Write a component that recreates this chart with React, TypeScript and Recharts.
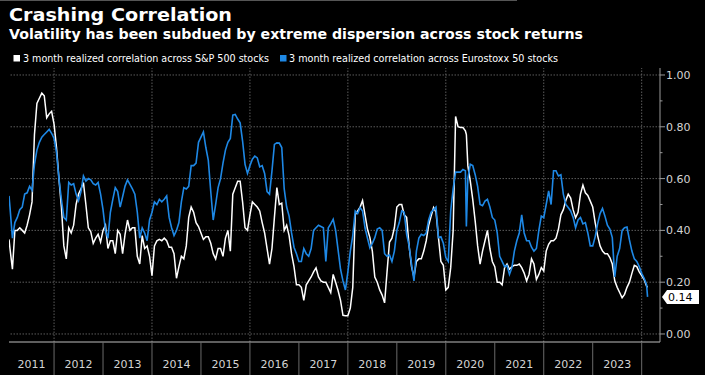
import React from 'react';
import { LineChart, Line, XAxis, YAxis, ReferenceLine } from 'recharts';

// ---- data (decimal year) ----
const dates = [
  2011.08, 2011.10, 2011.15, 2011.20, 2011.25, 2011.30, 2011.35, 2011.40, 2011.45, 2011.50, 2011.55, 2011.60, 2011.65, 2011.70, 2011.75, 2011.80, 2011.85, 2011.90, 2011.95,
  2012.00, 2012.05, 2012.10, 2012.15, 2012.20, 2012.25, 2012.30, 2012.35, 2012.40, 2012.45, 2012.50, 2012.55, 2012.60, 2012.65, 2012.70, 2012.75, 2012.80, 2012.85, 2012.90, 2012.95,
  2013.00, 2013.05, 2013.10, 2013.15, 2013.20, 2013.25, 2013.30, 2013.35, 2013.40, 2013.45, 2013.50, 2013.55, 2013.60, 2013.65, 2013.70, 2013.75, 2013.80, 2013.85, 2013.90, 2013.95,
  2014.00, 2014.05, 2014.10, 2014.15, 2014.20, 2014.25, 2014.30, 2014.35, 2014.40, 2014.45, 2014.50, 2014.55, 2014.60, 2014.65, 2014.70, 2014.75, 2014.80, 2014.85, 2014.90, 2014.95,
  2015.00, 2015.05, 2015.10, 2015.15, 2015.20, 2015.25, 2015.30, 2015.35, 2015.40, 2015.45, 2015.50, 2015.55, 2015.60, 2015.65, 2015.70, 2015.75, 2015.80, 2015.85, 2015.90, 2015.95,
  2016.00, 2016.05, 2016.10, 2016.15, 2016.20, 2016.25, 2016.30, 2016.35, 2016.40, 2016.45, 2016.50, 2016.55, 2016.60, 2016.65, 2016.70, 2016.75, 2016.80, 2016.85, 2016.90, 2016.95,
  2017.00, 2017.05, 2017.10, 2017.15, 2017.20, 2017.25, 2017.30, 2017.35, 2017.40, 2017.45, 2017.50, 2017.55, 2017.60, 2017.65, 2017.70, 2017.75, 2017.80, 2017.85, 2017.90, 2017.95,
  2018.00, 2018.05, 2018.10, 2018.15, 2018.20, 2018.25, 2018.30, 2018.35, 2018.40, 2018.45, 2018.50, 2018.55, 2018.60, 2018.65, 2018.70, 2018.75, 2018.80, 2018.85, 2018.90, 2018.95,
  2019.00, 2019.05, 2019.10, 2019.15, 2019.20, 2019.25, 2019.30, 2019.35, 2019.40, 2019.45, 2019.50, 2019.55, 2019.60, 2019.65, 2019.70, 2019.75, 2019.80, 2019.85, 2019.90, 2019.95,
  2020.00, 2020.05, 2020.10, 2020.15, 2020.20, 2020.25, 2020.30, 2020.35, 2020.40, 2020.42, 2020.45, 2020.50, 2020.55, 2020.60, 2020.65, 2020.70, 2020.75, 2020.80, 2020.85, 2020.90, 2020.95,
  2021.00, 2021.05, 2021.10, 2021.15, 2021.20, 2021.25, 2021.30, 2021.35, 2021.40, 2021.45, 2021.50, 2021.55, 2021.60, 2021.65, 2021.70, 2021.75, 2021.80, 2021.85, 2021.90, 2021.95,
  2022.00, 2022.05, 2022.10, 2022.15, 2022.20, 2022.25, 2022.30, 2022.35, 2022.40, 2022.45, 2022.50, 2022.55, 2022.60, 2022.65, 2022.70, 2022.75, 2022.80, 2022.85, 2022.90, 2022.95,
  2023.00, 2023.05, 2023.10, 2023.15, 2023.20, 2023.25, 2023.30, 2023.35, 2023.40, 2023.45, 2023.50, 2023.55, 2023.60, 2023.65, 2023.70, 2023.75, 2023.80, 2023.85, 2023.90, 2023.95,
  2024.00, 2024.05, 2024.10, 2024.12,
];

const sp500 = [
  0.365, 0.33, 0.25, 0.40, 0.40, 0.41, 0.40, 0.39, 0.42, 0.46, 0.51, 0.77, 0.89, 0.91, 0.93, 0.92, 0.835, 0.85, 0.86,
  0.81, 0.72, 0.60, 0.49, 0.34, 0.29, 0.41, 0.39, 0.42, 0.50, 0.54, 0.56, 0.585, 0.50, 0.41, 0.395, 0.35, 0.37, 0.385, 0.355,
  0.40, 0.42, 0.33, 0.36, 0.36, 0.31, 0.40, 0.385, 0.31, 0.385, 0.44, 0.40, 0.41, 0.41, 0.30, 0.27, 0.38, 0.33, 0.34, 0.30,
  0.225, 0.34, 0.36, 0.365, 0.36, 0.37, 0.36, 0.335, 0.335, 0.31, 0.215, 0.26, 0.30, 0.29, 0.34, 0.45, 0.49, 0.47, 0.43, 0.415,
  0.39, 0.365, 0.375, 0.375, 0.35, 0.31, 0.29, 0.33, 0.33, 0.30, 0.37, 0.40, 0.32, 0.54, 0.565, 0.59, 0.59, 0.51, 0.41, 0.40,
  0.46, 0.51, 0.50, 0.49, 0.475, 0.43, 0.39, 0.33, 0.27, 0.33, 0.45, 0.565, 0.50, 0.505, 0.40, 0.42, 0.38, 0.31, 0.26, 0.19,
  0.19, 0.18, 0.13, 0.19, 0.205, 0.22, 0.24, 0.255, 0.22, 0.205, 0.20, 0.20, 0.18, 0.16, 0.23, 0.20, 0.168, 0.13, 0.072, 0.07,
  0.07, 0.10, 0.18, 0.46, 0.475, 0.49, 0.515, 0.46, 0.405, 0.372, 0.32, 0.22, 0.20, 0.17, 0.15, 0.12, 0.24, 0.355, 0.37, 0.41,
  0.49, 0.50, 0.50, 0.46, 0.45, 0.34, 0.26, 0.22, 0.28, 0.29, 0.29, 0.32, 0.36, 0.42, 0.455, 0.488, 0.47, 0.372, 0.28, 0.265,
  0.17, 0.18, 0.256, 0.40, 0.84, 0.80, 0.797, 0.797, 0.784, 0.77, 0.65, 0.59, 0.52, 0.436, 0.34, 0.27, 0.32, 0.36, 0.40, 0.33, 0.28,
  0.26, 0.20, 0.20, 0.19, 0.256, 0.27, 0.25, 0.26, 0.265, 0.265, 0.27, 0.256, 0.235, 0.205, 0.23, 0.29, 0.27, 0.21, 0.23, 0.256,
  0.243, 0.32, 0.346, 0.36, 0.36, 0.37, 0.405, 0.46, 0.48, 0.515, 0.54, 0.525, 0.48, 0.449, 0.47, 0.54, 0.575, 0.545, 0.535, 0.513,
  0.49, 0.43, 0.38, 0.34, 0.32, 0.31, 0.31, 0.295, 0.27, 0.205, 0.18, 0.16, 0.14, 0.153, 0.18, 0.20, 0.234, 0.265, 0.26, 0.24,
  0.225, 0.21, 0.185, 0.18,
];

const eurostoxx = [
  0.533, 0.49, 0.37, 0.43, 0.45, 0.48, 0.49, 0.54, 0.545, 0.57, 0.555, 0.655, 0.71, 0.74, 0.76, 0.77, 0.78, 0.79, 0.775,
  0.755, 0.70, 0.60, 0.52, 0.45, 0.44, 0.585, 0.575, 0.58, 0.54, 0.515, 0.55, 0.61, 0.59, 0.60, 0.595, 0.58, 0.575, 0.585, 0.54,
  0.48, 0.40, 0.37, 0.47, 0.52, 0.565, 0.55, 0.49, 0.53, 0.571, 0.595, 0.578, 0.56, 0.54, 0.47, 0.37, 0.41, 0.39, 0.36, 0.44,
  0.47, 0.51, 0.50, 0.52, 0.51, 0.52, 0.533, 0.45, 0.41, 0.38, 0.40, 0.43, 0.51, 0.565, 0.56, 0.57, 0.65, 0.65, 0.66, 0.74,
  0.76, 0.78, 0.72, 0.67, 0.55, 0.44, 0.50, 0.565, 0.60, 0.66, 0.71, 0.74, 0.755, 0.845, 0.848, 0.83, 0.815, 0.745, 0.655, 0.62,
  0.65, 0.675, 0.687, 0.68, 0.645, 0.65, 0.62, 0.55, 0.54, 0.63, 0.732, 0.738, 0.737, 0.72, 0.56, 0.49, 0.455, 0.39, 0.335, 0.31,
  0.28, 0.28, 0.33, 0.31, 0.30, 0.33, 0.40, 0.41, 0.42, 0.415, 0.41, 0.28, 0.41, 0.425, 0.443, 0.40, 0.325, 0.25, 0.205, 0.17,
  0.24, 0.32, 0.38, 0.475, 0.465, 0.488, 0.475, 0.41, 0.37, 0.333, 0.35, 0.372, 0.405, 0.41, 0.40, 0.31, 0.30, 0.305, 0.28, 0.32,
  0.40, 0.43, 0.475, 0.47, 0.385, 0.34, 0.27, 0.205, 0.32, 0.37, 0.385, 0.38, 0.39, 0.44, 0.47, 0.48, 0.49, 0.372, 0.375, 0.35,
  0.295, 0.28, 0.475, 0.56, 0.625, 0.625, 0.625, 0.635, 0.63, 0.415, 0.60, 0.655, 0.65, 0.615, 0.57, 0.50, 0.495, 0.513, 0.52, 0.49, 0.45,
  0.44, 0.39, 0.30, 0.28, 0.26, 0.265, 0.23, 0.256, 0.32, 0.36, 0.39, 0.46, 0.39, 0.36, 0.36, 0.335, 0.32, 0.33, 0.40, 0.455,
  0.449, 0.50, 0.552, 0.50, 0.63, 0.63, 0.61, 0.615, 0.54, 0.50, 0.488, 0.475, 0.45, 0.41, 0.44, 0.45, 0.425, 0.43, 0.39, 0.34,
  0.34, 0.375, 0.425, 0.465, 0.485, 0.455, 0.42, 0.405, 0.372, 0.22, 0.30, 0.33, 0.40, 0.41, 0.413, 0.363, 0.32, 0.29, 0.28, 0.26,
  0.234, 0.215, 0.19, 0.143,
];

const seriesNames = [
  '3 month realized correlation across S&P 500 stocks',
  '3 month realized correlation across Eurostoxx 50 stocks',
];
const yTicks = [0, 0.1, 0.2, 0.3, 0.4, 0.5, 0.6, 0.7, 0.8, 0.9, 1.0];
const yGrid = [0, 0.2, 0.4, 0.6, 0.8, 1.0];
const yearStarts = [2012, 2013, 2014, 2015, 2016, 2017, 2018, 2019, 2020, 2021, 2022, 2023, 2024];
const years = [2011, 2012, 2013, 2014, 2015, 2016, 2017, 2018, 2019, 2020, 2021, 2022, 2023];
const xGrid = [2012, 2014, 2016, 2018, 2020, 2022, 2024];
const title = 'Crashing Correlation';
const subtitle = 'Volatility has been subdued by extreme dispersion across stock returns';

const X_DOMAIN: [number, number] = [2011.08, 2024.374];
const Y_DOMAIN: [number, number] = [-0.031, 1.027];

const WHITE = '#ffffff';
const BLUE = '#1e88e5';
const FONT = "'DejaVu Sans', 'Liberation Sans', sans-serif";

const data = dates.map((t, i) => ({ t, sp: sp500[i], eu: eurostoxx[i] }));

const labelPositions = years.map((y) => (y < yearStarts[0] ? (X_DOMAIN[0] + yearStarts[0]) / 2 : y + 0.5));
const xTicks = [...yearStarts, ...labelPositions].sort((a, b) => a - b);

const XTick = (props: any) => {
  const { x, y, payload } = props;
  const v = payload.value;
  if (yearStarts.includes(v)) {
    return <line x1={x} x2={x} y1={y} y2={y + 34} stroke="#6a6a6a" strokeWidth={1} />;
  }
  return (
    <text x={x} y={y + 26} textAnchor="middle" fill="#d4d4d4" fontSize={11} fontFamily={FONT}>
      {Math.floor(v)}
    </text>
  );
};

const YTick = (props: any) => {
  const { x, y, payload } = props;
  const v = payload.value;
  const major = Math.round(v * 10) % 2 === 0;
  if (!major) {
    return <line x1={x} x2={x + 2.5} y1={y} y2={y} stroke="#9a9a9a" />;
  }
  return (
    <g>
      <line x1={x} x2={x + 5} y1={y} y2={y} stroke="#9a9a9a" />
      <text x={x + 6} y={y} dy="0.36em" fill="#d4d4d4" fontSize={11} fontFamily={FONT}>
        {v.toFixed(2)}
      </text>
    </g>
  );
};

const lastValue = eurostoxx[eurostoxx.length - 1];

const Tag = (props: any) => {
  const vb = props.viewBox || {};
  const x0 = (vb.x || 0) + (vb.width || 0) + 2;
  const y0 = vb.y || 0;
  const pts = `${x0},${y0} ${x0 + 5},${y0 - 7} ${x0 + 37},${y0 - 7} ${x0 + 37},${y0 + 7} ${x0 + 5},${y0 + 7}`;
  return (
    <g>
      <polygon points={pts} fill="#ffffff" />
      <text x={x0 + 6} y={y0} dy="0.36em" fill="#000" fontSize={11} fontFamily={FONT}>
        {lastValue.toFixed(2)}
      </text>
    </g>
  );
};

export default function App() {
  return (
    <div style={{ position: 'absolute', left: 0, top: 0, width: 705, height: 375, background: '#000', overflow: 'hidden' }}>
      <div style={{ position: 'absolute', left: 0, top: 0 }}>
        <LineChart width={705} height={375} data={data} margin={{ top: 68, right: 5, bottom: 0, left: 9 }}>
          {yGrid.map((g) => (
            <ReferenceLine key={'h' + g} y={g} stroke="#5c5c5c" strokeDasharray="1.5 1.5" />
          ))}
          {xGrid.map((g) => (
            <ReferenceLine key={'v' + g} x={g} stroke="#5c5c5c" strokeDasharray="1.5 1.5" />
          ))}
          <XAxis
            dataKey="t"
            type="number"
            domain={X_DOMAIN}
            ticks={xTicks}
            interval={0}
            height={33}
            tickSize={0}
            tickMargin={0}
            tickLine={false}
            axisLine={{ stroke: '#bdbdbd', strokeWidth: 1 }}
            tick={<XTick />}
            allowDataOverflow
          />
          <YAxis
            orientation="right"
            type="number"
            domain={Y_DOMAIN}
            ticks={yTicks}
            interval={0}
            width={40}
            tickSize={0}
            tickMargin={0}
            tickLine={false}
            axisLine={{ stroke: '#9a9a9a', strokeWidth: 1 }}
            tick={<YTick />}
            allowDataOverflow
          />
          <Line type="linear" dataKey="sp" stroke={WHITE} strokeWidth={1.5} dot={false} isAnimationActive={false} />
          <Line type="linear" dataKey="eu" stroke={BLUE} strokeWidth={1.6} dot={false} isAnimationActive={false} />
          <ReferenceLine y={lastValue} stroke="none" label={(p: any) => <Tag {...p} />} />
        </LineChart>
      </div>
      <svg width={705} height={68} style={{ position: 'absolute', left: 0, top: 0 }}>
        <line x1={0} y1={0.5} x2={517} y2={0.5} stroke="#555" />
        <text x={9} y={21} fill="#fff" fontFamily={FONT} fontWeight="bold" fontSize={18.5} textLength={223} lengthAdjust="spacingAndGlyphs">
          {title}
        </text>
        <text x={9} y={38.5} fill="#fff" fontFamily={FONT} fontWeight="bold" fontSize={14} textLength={574} lengthAdjust="spacingAndGlyphs">
          {subtitle}
        </text>
        <rect x={13.5} y={55} width={6.5} height={6.5} fill={WHITE} />
        <text x={23} y={62} fill="#fff" fontFamily={FONT} fontSize={10} textLength={246} lengthAdjust="spacingAndGlyphs">
          {seriesNames[0]}
        </text>
        <rect x={280} y={55} width={6.5} height={6.5} fill={BLUE} />
        <text x={289} y={62} fill="#fff" fontFamily={FONT} fontSize={10} textLength={269} lengthAdjust="spacingAndGlyphs">
          {seriesNames[1]}
        </text>
      </svg>
    </div>
  );
}
